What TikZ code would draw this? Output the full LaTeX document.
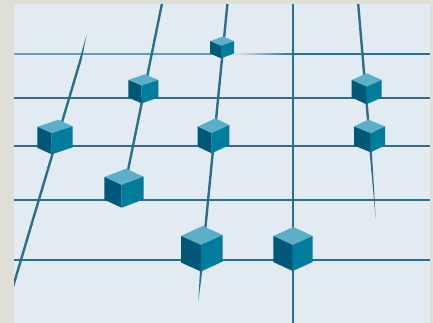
\documentclass[tikz,border=0pt]{standalone}
\begin{document}
\definecolor{outerc}{HTML}{DFDFD8}
\definecolor{panelc}{HTML}{E2EBF1}
\definecolor{linec}{HTML}{2A6F8B}
\definecolor{lightlinec}{HTML}{6A9DB2}
\definecolor{topc}{HTML}{5BAFC6}
\definecolor{leftc}{HTML}{005879}
\definecolor{rightc}{HTML}{007C9C}
\newcommand\isocube[7]{%
  \fill[topc] (#1,#2) -- ++(-#3,-#5) -- ++(#4,-#6) -- ++(#3,#5) -- cycle;
  \fill[leftc] (#1,#2) -- ++(-#3,-#5) -- ++(0,#7) -- ++(#3,#5) -- cycle;
  \fill[rightc] (#1,#2) -- ++(#4,-#6) -- ++(0,#7) -- ++(-#4,#6) -- cycle;
}
\begin{tikzpicture}[x=1pt,y=-1pt,
  gridline/.style={draw=linec,line width=2.6pt},
  slantline/.style={draw=linec,line width=2.4pt},
  taper/.style={fill=linec}]
\useasboundingbox (0,0) rectangle (433,323);
\fill[outerc] (0,0) rectangle (433,323);
\fill[panelc] (14,4.5) rectangle (430,323);
\begin{scope}
\clip (14,4.5) rectangle (430,323);
% horizontal lines
\draw[draw=lightlinec,line width=1.8pt] (14,54) -- (222,54);
\shade[left color=panelc,right color=linec] (233,53.1) rectangle (293,54.9);
\draw[draw=linec,line width=1.8pt] (293,54) -- (430,54);
\draw[gridline] (14,98) -- (430,98);
\draw[gridline] (14,146) -- (430,146);
\draw[gridline] (14,200) -- (430,200);
\draw[gridline] (14,260) -- (430,260);
% vertical line
\draw[gridline] (293,4.5) -- (293,323);
% slanted lines
\coordinate (l1a) at (12,290);
\coordinate (l1b) at (80.5,60);
\coordinate (l1t) at (86.6,35);
\draw[slantline] (l1a) -- (l1b);
\fill[taper] ([xshift=-1.2pt]l1b) -- (l1t) -- ([xshift=1.2pt]l1b) -- cycle;
\coordinate (l2a) at (161.9,4);
\coordinate (l2b) at (124,190);
\draw[slantline] (l2a) -- (l2b);
\coordinate (l3a) at (227.4,4);
\coordinate (l3b) at (201.2,270);
\coordinate (l3t) at (198.3,302);
\draw[slantline] (l3a) -- (l3b);
\fill[taper] ([xshift=-1.2pt]l3b) -- (l3t) -- ([xshift=1.2pt]l3b) -- cycle;
\coordinate (l4a) at (358.2,4);
\coordinate (l4b) at (370.6,150);
\coordinate (l4t) at (375.7,219);
\draw[slantline] (l4a) -- (l4b);
\fill[taper] ([xshift=-1.2pt]l4b) -- (l4t) -- ([xshift=1.2pt]l4b) -- cycle;
\end{scope}
% cubes
\isocube{51.7}{133.3}{14.4}{21}{6.5}{7}{21}
\isocube{141.7}{85.7}{13.4}{16.6}{5.7}{5.7}{17.6}
\isocube{221}{46}{11}{13}{4.8}{4.8}{12.3}
\isocube{211.7}{133.3}{14}{17.6}{6.6}{8.3}{20}
\isocube{121.7}{185}{17.4}{21.8}{8}{8.3}{22.7}
\isocube{201}{245}{20}{21.7}{9}{10}{26.5}
\isocube{292.7}{245}{19.4}{20}{9}{9}{26}
\isocube{366.7}{86.7}{15}{15}{6.7}{6.7}{17.6}
\isocube{370.7}{133.3}{16.7}{14.3}{6.8}{6.8}{19}
\end{tikzpicture}
\end{document}
